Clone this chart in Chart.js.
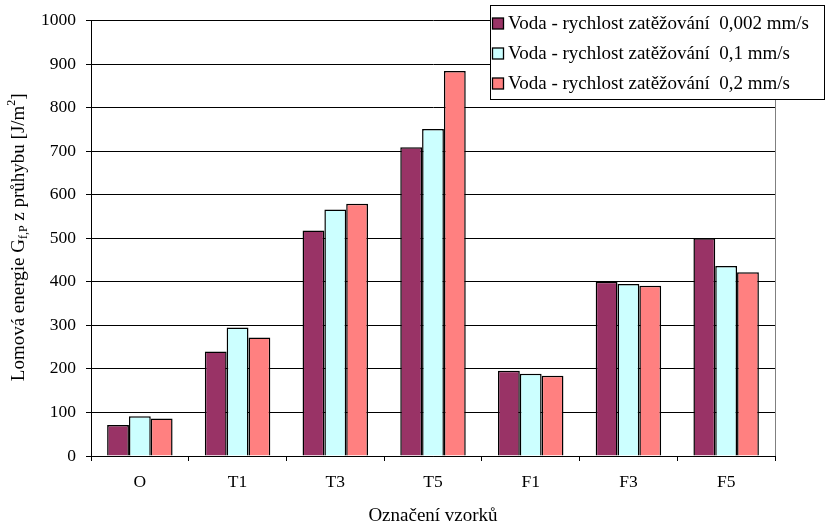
<!DOCTYPE html>
<html>
<head>
<meta charset="utf-8">
<script src="https://cdn.jsdelivr.net/npm/chart.js@4/dist/chart.umd.min.js"></script>
<style>
html,body{margin:0;padding:0;background:#fff;}
#wrap{width:828px;height:527px;position:relative;}
</style>
</head>
<body>
<div id="wrap"><canvas id="c" width="828" height="527"></canvas></div>
<script>
const categories = ["O", "T1", "T3", "T5", "F1", "F3", "F5"];
const seriesLabels = [
  "Voda - rychlost zatěžování  0,002 mm/s",
  "Voda - rychlost zatěžování  0,1 mm/s",
  "Voda - rychlost zatěžování  0,2 mm/s"
];
const rate0002 = [71, 240, 518, 709, 196, 400, 500];
const rate01 = [91, 295, 566, 751, 189, 395, 436];
const rate02 = [86, 272, 579, 884, 184, 391, 422];
const yTicks = [0, 100, 200, 300, 400, 500, 600, 700, 800, 900, 1000];
const xTitle = "Označení vzorků";
const yTitleParts = ["Lomová energie G", "f,P", " z průhybu [J/m", "2", "]"];

const colors = ["#993366", "#CCFFFF", "#FF8080"];
const FONT = "'Liberation Serif', 'Times New Roman', serif";

const legendPlugin = {
  id: 'boxLegend',
  afterDraw(chart) {
    const ctx = chart.ctx;
    ctx.save();
    const x0 = 490.5, y0 = 5.5, w = 334, h = 94;
    ctx.fillStyle = '#fff';
    ctx.fillRect(x0, y0, w, h);
    ctx.strokeStyle = '#000';
    ctx.lineWidth = 1;
    ctx.strokeRect(x0, y0, w, h);
    ctx.font = "19px " + FONT;
    ctx.textBaseline = 'middle';
    chart.data.datasets.forEach((ds, i) => {
      const cy = 23.5 + i * 30;
      ctx.fillStyle = ds.backgroundColor;
      ctx.fillRect(492.5, cy - 5.5, 11, 11);
      ctx.strokeStyle = '#000';
      ctx.lineWidth = 1.3;
      ctx.strokeRect(492.5, cy - 5.5, 11, 11);
      ctx.fillStyle = '#000';
      ctx.fillText(ds.label, 508, cy + 1);
    });
    ctx.restore();
  }
};

const yTitlePlugin = {
  id: 'yTitle',
  afterDraw(chart) {
    const ctx = chart.ctx;
    const area = chart.chartArea;
    ctx.save();
    const big = "19px " + FONT, small = "12px " + FONT;
    ctx.font = big;
    const w0 = ctx.measureText(yTitleParts[0]).width;
    const w2 = ctx.measureText(yTitleParts[2]).width;
    const w4 = ctx.measureText(yTitleParts[4]).width;
    ctx.font = small;
    const w1 = ctx.measureText(yTitleParts[1]).width;
    const w3 = ctx.measureText(yTitleParts[3]).width;
    const total = w0 + w1 + w2 + w3 + w4;
    const cy = (area.top + area.bottom) / 2 - 1;
    ctx.translate(24, cy);
    ctx.rotate(-Math.PI / 2);
    ctx.fillStyle = '#000';
    ctx.textBaseline = 'alphabetic';
    let x = -total / 2;
    ctx.font = big; ctx.fillText(yTitleParts[0], x, 0); x += w0;
    ctx.font = small; ctx.fillText(yTitleParts[1], x, 3); x += w1;
    ctx.font = big; ctx.fillText(yTitleParts[2], x, 0); x += w2;
    ctx.font = small; ctx.fillText(yTitleParts[3], x, -9); x += w3;
    ctx.font = big; ctx.fillText(yTitleParts[4], x, 0);
    ctx.restore();
  }
};

const borderPlugin = {
  id: 'plotBorder',
  beforeDatasetsDraw(chart) {
    const ctx = chart.ctx, a = chart.chartArea;
    ctx.save();
    ctx.strokeStyle = '#808080';
    ctx.lineWidth = 1;
    ctx.beginPath();
    ctx.moveTo(Math.round(a.right) + 0.5, a.top);
    ctx.lineTo(Math.round(a.right) + 0.5, a.bottom);
    ctx.stroke();
    ctx.restore();
  }
};

const datasets = [rate0002, rate01, rate02].map((d, i) => ({
  label: seriesLabels[i],
  data: d,
  backgroundColor: colors[i],
  borderColor: '#000',
  borderWidth: 1.5,
  categoryPercentage: 0.67,
  barPercentage: 1.0
}));

new Chart(document.getElementById('c'), {
  type: 'bar',
  data: { labels: categories, datasets },
  options: {
    responsive: false,
    animation: false,
    devicePixelRatio: 1,
    layout: { padding: { left: 0, right: 53, top: 20, bottom: 0 } },
    plugins: { legend: { display: false }, tooltip: { enabled: false } },
    scales: {
      x: {
        grid: { drawOnChartArea: false, color: '#000', tickLength: 5, offset: true },
        border: { color: '#000' },
        ticks: { color: '#000', font: { family: FONT, size: 17.5 }, padding: 11 },
        title: { display: true, text: xTitle, color: '#000', font: { family: FONT, size: 19 }, padding: { top: 12, bottom: 0 } },
        afterFit(scale) { scale.height = 71; }
      },
      y: {
        min: 0, max: 1000,
        afterBuildTicks(scale) { scale.ticks = yTicks.map(v => ({ value: v })); },
        grid: { color: '#000', tickLength: 5 },
        border: { color: '#000' },
        ticks: { color: '#000', font: { family: FONT, size: 17.5 }, padding: 10, callback: v => String(v) },
        afterFit(scale) { scale.width = 91; }
      }
    }
  },
  plugins: [borderPlugin, yTitlePlugin, legendPlugin]
});
</script>
</body>
</html>
